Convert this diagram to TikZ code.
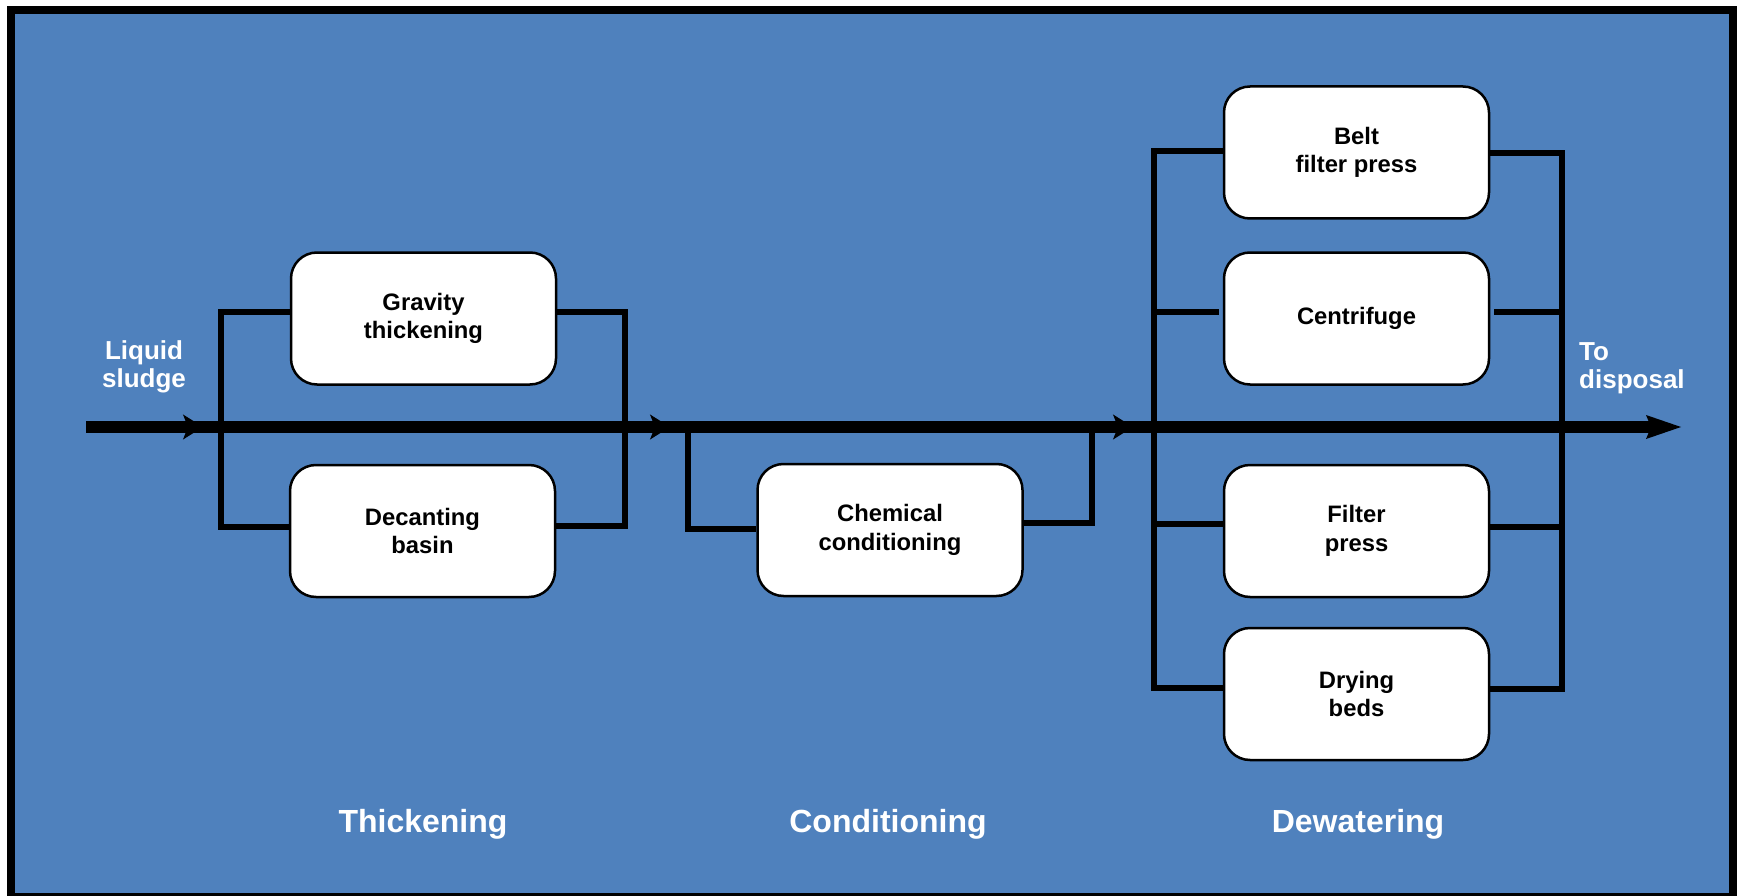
\documentclass[tikz,border=0pt]{standalone}
\usepackage{fontspec}
\setmainfont{Liberation Sans}
\usetikzlibrary{arrows.meta}
\definecolor{panelblue}{HTML}{4F81BD}
\begin{document}
\begin{tikzpicture}[x=1pt,y=-1pt,
  unit/.style={draw=black, line width=2.5pt, fill=white, rounded corners=26pt,
    minimum width=265pt, minimum height=132pt, inner sep=0pt, align=center,
    font=\fontsize{23.8}{28.5}\selectfont\bfseries},
  bus/.style={draw=black, line width=5.5pt, line join=miter},
  flow/.style={draw=black, line width=12pt},
  midhead/.style={draw=black, line width=1pt, -{Stealth[length=20pt,width=25pt,inset=5pt]}},
  side/.style={text=white, inner sep=0pt, font=\fontsize{26}{28}\selectfont\bfseries},
  stagelabel/.style={text=white, inner sep=0pt, anchor=base,
    font=\fontsize{32}{38}\selectfont\bfseries}]

% page, frame and panel
\useasboundingbox (0,0) rectangle (1737,896);
\fill[white] (0,0) rectangle (1737,896);
\fill[black] (7,6) rectangle (1737,896);
\fill[panelblue] (15,14) rectangle (1729,893);

% process units
\node[unit] (grav) at (423.5,318.5) {Gravity\\thickening};
\node[unit] (dec)  at (422.5,531)   {Decanting\\basin};
\node[unit] (chem) at (890,530)     {Chemical\\conditioning};
\node[unit] (belt) at (1356.5,152.5) {Belt\\filter press};
\node[unit] (cent) at (1356.5,318.5) {Centrifuge};
\node[unit] (filt) at (1356.5,531)   {Filter\\press};
\node[unit] (dry)  at (1356.5,694)   {Drying\\beds};

% main sludge line
\coordinate (in)  at (86,427);
\coordinate (out) at (1681,427);
\draw[flow, -{Stealth[length=35pt,width=24pt,inset=5pt,line width=0pt]}] (in) -- (out);

% arrowheads along the main line
\coordinate (h1) at (203,427);
\coordinate (h2) at (670,427);
\coordinate (h3) at (1133,427);
\draw[midhead] ([xshift=-20pt]h1) -- (h1);
\draw[midhead] ([xshift=-20pt]h2) -- (h2);
\draw[midhead] ([xshift=-20pt]h3) -- (h3);

% thickening branches
\draw[bus] (grav.west |- 0,312) -- (221,312) -- (221,527) -- (dec.west |- 0,527);
\draw[bus] (grav.east |- 0,312) -- (625,312) -- (625,526) -- (dec.east |- 0,526);

% conditioning loop
\draw[bus] (688,427) -- (688,529) -- (chem.west |- 0,529);
\draw[bus] (chem.east |- 0,523) -- (1092,523) -- (1092,427);

% dewatering branches
\coordinate (cw) at ([xshift=-4pt]cent.west);
\coordinate (ce) at ([xshift=4pt]cent.east);
\draw[bus] (belt.west |- 0,151) -- (1154,151) -- (1154,688) -- (dry.west |- 0,688);
\draw[bus] (cw |- 0,312) -- (1154,312);
\draw[bus] (filt.west |- 0,524) -- (1154,524);
\draw[bus] (belt.east |- 0,153) -- (1562,153) -- (1562,689) -- (dry.east |- 0,689);
\draw[bus] (ce |- 0,312) -- (1562,312);
\draw[bus] (filt.east |- 0,527) -- (1562,527);

% side labels
\node[side, align=center] (liq) at (144,367) {Liquid\\sludge};
\node[side, align=left, anchor=west] (disp) at (1579,368) {To\\disposal};

% stage labels
\node[stagelabel] (s1) at (423,832)  {Thickening};
\node[stagelabel] (s2) at (888,832)  {Conditioning};
\node[stagelabel] (s3) at (1358,832) {Dewatering};
\end{tikzpicture}
\end{document}
